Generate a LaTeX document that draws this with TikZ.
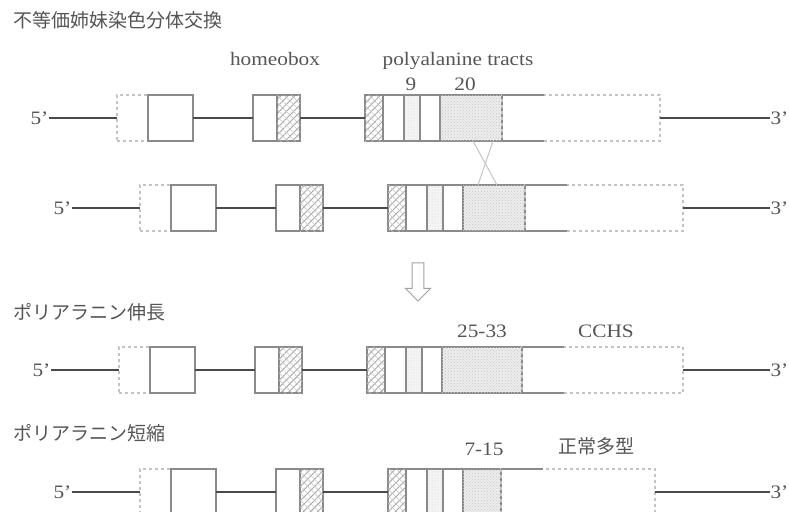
\documentclass[tikz,border=0pt]{standalone}
\usepackage{fontspec}
\setmainfont[FakeStretch=1.12]{Liberation Serif}
\newfontfamily\jpfont{Noto Sans CJK JP}
\usepackage{tikz}
\usetikzlibrary{positioning,patterns,patterns.meta,shapes.arrows}

\definecolor{dnaline}{HTML}{4A4A4A}
\definecolor{boxline}{HTML}{8A8A8A}
\definecolor{faintline}{HTML}{C4C4C4}
\definecolor{labeltext}{HTML}{555555}

\tikzset{
    seg/.style={draw=boxline, line width=1.3pt, minimum height=46, inner sep=0pt, outer sep=0pt, anchor=west},
    dotseg/.style={seg, draw=faintline, dashed},
    hatchseg/.style={seg, fill=gray!10,
        pattern={Lines[angle=45, distance=5pt, line width=0.9pt]}, pattern color=gray!70,
        postaction={pattern={Lines[angle=-45, distance=5pt, line width=0.6pt]}, pattern color=gray!45}},
    lightseg/.style={seg, fill=gray!8, postaction={pattern=dots, pattern color=gray!45}},
    stipseg/.style={seg, fill=gray!14, postaction={pattern=crosshatch dots, pattern color=gray!45}},
    utrseg/.style={seg, draw=faintline, dashed},
    dna/.style={draw=dnaline, line width=2pt},
    endlbl/.style={font=\fontsize{19}{22}\selectfont, text=labeltext, inner sep=0.5pt},
    lbl/.style={font=\fontsize{19}{22}\selectfont, text=labeltext, inner sep=0pt, anchor=base},
    jplbl/.style={font=\jpfont\fontsize{19}{22}\selectfont, text=labeltext, inner sep=0pt}
}

% #1 row name, #2 y, #3 shift, #4 stipple width, #5 3' part width
\newcommand{\generow}[5]{%
    \node[endlbl, anchor=east] (#1-five) at (#3+49,#2) {5'};
    \node[dotseg, minimum width=31] (#1-utr5) at (#3+117,#2) {};
    \node[seg, minimum width=45, right=0pt of #1-utr5] (#1-ex1) {};
    \node[seg, minimum width=24] (#1-ex2a) at (#3+253,#2) {};
    \node[hatchseg, minimum width=23, right=0pt of #1-ex2a] (#1-ex2h) {};
    \node[hatchseg, minimum width=18] (#1-ex3h) at (#3+365,#2) {};
    \node[seg, minimum width=21, right=0pt of #1-ex3h] (#1-ex3a) {};
    \node[lightseg, minimum width=16, right=0pt of #1-ex3a] (#1-ex3d) {};
    \node[seg, minimum width=20, right=0pt of #1-ex3d] (#1-ex3b) {};
    \node[stipseg, minimum width=#4, right=0pt of #1-ex3b] (#1-ex3s) {};
    \node[utrseg, minimum width=#5, right=0pt of #1-ex3s] (#1-utr3) {};
    \node[endlbl, anchor=east] (#1-three) at (789,#2) {3'};
    \draw[dna] (#1-five) -- (#1-utr5);
    \draw[dna] (#1-ex1) -- (#1-ex2a);
    \draw[dna] (#1-ex2h) -- (#1-ex3h);
    \draw[dna] (#1-utr3) -- (#1-three);
    \draw[boxline, line width=1.3pt] (#1-utr3.north west) -- ++(42,0);
    \draw[boxline, line width=1.3pt] (#1-utr3.south west) -- ++(42,0);
}

\begin{document}
\begin{tikzpicture}[x=1pt, y=-1pt]
\useasboundingbox (0,0) rectangle (789,511);

% unequal exchange
\node[jplbl, anchor=west] (exch) at (13,20) {不等価姉妹染色分体交換};
\node[lbl] (hbox) at (275,65) {homeobox};
\node[lbl] (polya) at (458,65) {polyalanine tracts};
\node[lbl] (n9) at (411,90) {9};
\node[lbl] (n20) at (465,90) {20};

\generow{r1}{118}{0}{62}{158}
\generow{r2}{208}{23}{62}{158}

\coordinate (xa) at (473,141);
\coordinate (xb) at (497,185);
\coordinate (xc) at (493,141);
\coordinate (xd) at (478,185);
\draw[faintline, line width=1pt] (xa) -- (xb);
\draw[faintline, line width=1pt] (xc) -- (xd);

\node[draw=boxline!80, line width=1pt, shape=single arrow, rotate=-90,
      minimum height=38, minimum width=25, inner sep=5pt,
      single arrow head extend=6pt] (down) at (418,279) {};

% expansion
\node[jplbl, anchor=west] (longer) at (13,312) {ポリアラニン伸長};
\node[lbl] (n2533) at (482,337) {25-33};
\node[lbl] (cchs) at (606,337) {CCHS};
\generow{r3}{370}{2}{80}{161}

% contraction
\node[jplbl, anchor=west] (shorter) at (13,433) {ポリアラニン短縮};
\node[lbl] (n715) at (484,455) {7-15};
\node[jplbl, anchor=base] (normal) at (596,453) {正常多型};
\generow{r4}{492}{23}{38}{154}
\end{tikzpicture}
\end{document}
